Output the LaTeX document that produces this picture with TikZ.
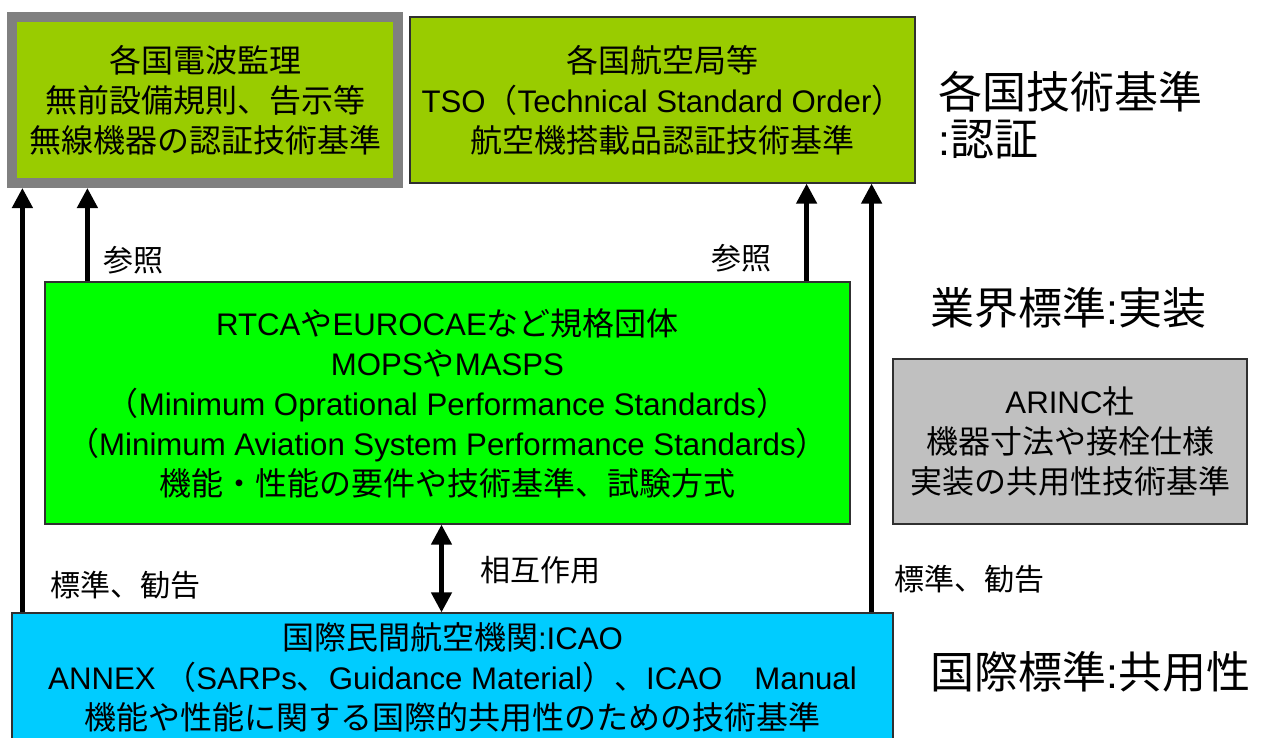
\documentclass[tikz,border=0pt]{standalone}
\usepackage{fontspec}
\setmainfont{Liberation Sans}
\newfontfamily\latinfont{Liberation Sans}[Scale=0.975]
\newfontfamily\jpfont{Noto Sans CJK JP}
\usetikzlibrary{arrows.meta}
\newXeTeXintercharclass\JPclass
\newcount\jpcc
\def\setjprange#1#2{\jpcc=#1\relax\loop\XeTeXcharclass\jpcc=\JPclass\relax\ifnum\jpcc<#2\relax\advance\jpcc by 1\relax\repeat}
\setjprange{"3000}{"30FF}
\setjprange{"4E00}{"9FFF}
\setjprange{"FF00}{"FFEF}
\XeTeXinterchartoks 0 \JPclass = {\jpfont}
\XeTeXinterchartoks 4095 \JPclass = {\jpfont}
\XeTeXinterchartoks \JPclass 0 = {\latinfont}
\XeTeXinterchartoks 4095 0 = {\latinfont}
\AtBeginDocument{\XeTeXinterchartokenstate=1}
\definecolor{topgreen}{HTML}{99CC00}
\definecolor{midgreen}{HTML}{00FF00}
\definecolor{icaoblue}{HTML}{00CCFF}
\definecolor{arincgray}{HTML}{C0C0C0}
\definecolor{bordergray}{HTML}{808080}
\definecolor{boxline}{HTML}{303030}
\tikzset{
  boxtext/.style={align=center, font=\fontsize{32}{40}\selectfont, inner sep=0pt, text=black},
  thinbox/.style={boxtext, draw=boxline, line width=1.2pt},
  arr/.style={line width=4.5pt, -{Triangle[width=20pt,length=20pt]}},
  darr/.style={line width=4.5pt, {Triangle[width=20pt,length=20pt]}-{Triangle[width=20pt,length=20pt]}},
  lbl/.style={font=\fontsize{30}{36}\selectfont, inner sep=0pt},
  biglbl/.style={font=\fontsize{44}{52}\selectfont, inner sep=0pt, anchor=west},
}
\begin{document}
\begin{tikzpicture}[x=1pt,y=-1pt]
\useasboundingbox (0,0) rectangle (1268,738);
% boxes
\node[boxtext, fill=topgreen, draw=bordergray, line width=10pt, minimum width=386pt, minimum height=166pt] (tl) at (205,100)
  {各国電波監理\\無前設備規則、告示等\\無線機器の認証技術基準};
\node[thinbox, fill=topgreen, minimum width=505pt, minimum height=166pt] (tm) at (662.5,100)
  {各国航空局等\\TSO（Technical Standard Order）\\航空機搭載品認証技術基準};
\node[thinbox, fill=midgreen, minimum width=805pt, minimum height=242pt] (mid) at (447.5,403)
  {RTCAやEUROCAEなど規格団体\\MOPSやMASPS\\（Minimum Oprational Performance Standards）\\（Minimum Aviation System Performance Standards）\\機能・性能の要件や技術基準、試験方式};
\node[thinbox, fill=arincgray, minimum width=354pt, minimum height=165pt] (arinc) at (1070,441.5)
  {ARINC社\\機器寸法や接栓仕様\\実装の共用性技術基準};
\node[thinbox, fill=icaoblue, minimum width=881pt, minimum height=129pt] (icao) at (452.5,677.5)
  {国際民間航空機関:ICAO\\ANNEX （SARPs、Guidance Material）、ICAO　Manual\\機能や性能に関する国際的共用性のための技術基準};
% arrows
\draw[arr] ([xshift=11pt]icao.north west) -- ([xshift=11pt]icao.north west |- tl.south);
\draw[arr] ([xshift=43pt]mid.north west) -- ([xshift=43pt]mid.north west |- tl.south);
\draw[arr] ([xshift=-44pt]mid.north east) -- ([xshift=-44pt]mid.north east |- tm.south);
\draw[arr] ([xshift=-22pt]icao.north east) -- ([xshift=-22pt]icao.north east |- tm.south);
\draw[darr] ([xshift=-6pt]mid.south) -- ([xshift=-6pt]mid.south |- icao.north);
% labels
\node[lbl] (ref1) at (133,260) {参照};
\node[lbl] (ref2) at (741,258) {参照};
\node[lbl] (std1) at (125,585) {標準、勧告};
\node[lbl] (std2) at (969,579) {標準、勧告};
\node[lbl] (inter) at (540,570) {相互作用};
% right side
\node[biglbl] (r1) at (938,92) {各国技術基準};
\node[biglbl] (r2) at (938,140) {:認証};
\node[biglbl] (r3) at (930,308) {業界標準:実装};
\node[biglbl] (r4) at (930,672) {国際標準:共用性};
\end{tikzpicture}
\end{document}
